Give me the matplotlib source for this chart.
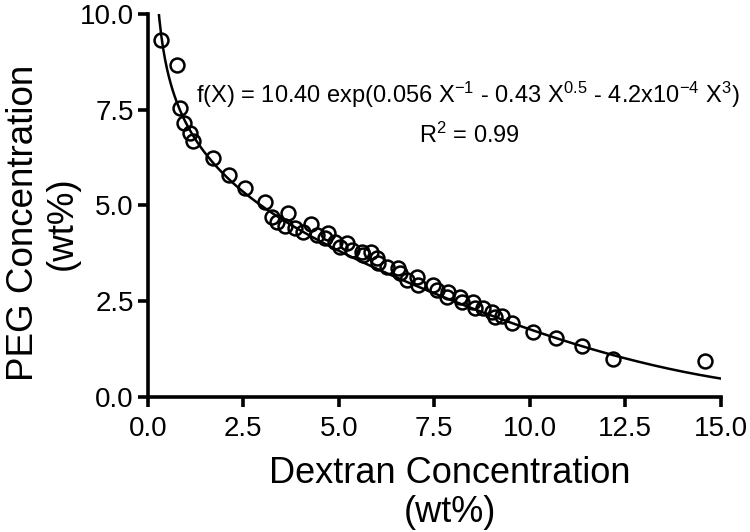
import numpy as np
import matplotlib
matplotlib.use("Agg")
import matplotlib.pyplot as plt

plt.rcParams['font.family'] = ['Liberation Sans', 'DejaVu Sans']
plt.rcParams['mathtext.default'] = 'regular'

dextran = [0.34, 0.76, 0.84, 0.94, 1.10, 1.18, 1.70, 2.12, 2.54, 3.06,
           3.25, 3.38, 3.59, 3.66, 3.85, 4.06, 4.27, 4.42, 4.63, 4.71,
           4.90, 5.03, 5.21, 5.34, 5.60, 5.63, 5.84, 5.99, 6.02, 6.26,
           6.54, 6.60, 6.78, 7.04, 7.07, 7.46, 7.57, 7.85, 7.83, 8.17,
           8.22, 8.51, 8.56, 8.77, 9.01, 9.08, 9.27, 9.53, 10.08, 10.68,
           11.36, 12.17, 14.58]
peg = [9.32, 8.67, 7.55, 7.15, 6.89, 6.68, 6.24, 5.80, 5.46, 5.09,
       4.70, 4.57, 4.46, 4.80, 4.41, 4.31, 4.52, 4.23, 4.15, 4.28,
       4.05, 3.92, 4.02, 3.84, 3.79, 3.71, 3.79, 3.63, 3.50, 3.39,
       3.37, 3.24, 3.05, 3.13, 2.92, 2.92, 2.79, 2.74, 2.61, 2.61,
       2.48, 2.48, 2.32, 2.32, 2.22, 2.09, 2.11, 1.93, 1.70, 1.54,
       1.33, 0.99, 0.94]

# fit coefficients stated on the chart
A, b1, b2, b3 = 10.40, 0.056, 0.43, 4.2e-4
xticks = [0.0, 2.5, 5.0, 7.5, 10.0, 12.5, 15.0]
yticks = [0.0, 2.5, 5.0, 7.5, 10.0]

fig = plt.figure(figsize=(7.5, 5.32), dpi=100)
ax = fig.add_axes([0.197, 0.254, 0.764, 0.72])

xf = np.linspace(0.28, 15, 600)
yf = A * np.exp(b1 / xf - b2 * xf ** 0.5 - b3 * xf ** 3)
ax.plot(xf, yf, color='black', lw=1.8, zorder=2)
ax.plot(dextran, peg, linestyle='none', marker='o', ms=10, mfc='none',
        mec='black', mew=1.8, zorder=3, clip_on=False)

ax.set_xlim(0, 15)
ax.set_ylim(0, 10)
ax.set_xticks(xticks)
ax.set_yticks(yticks)
ax.set_xticklabels([f"{v:.1f}" for v in xticks])
ax.set_yticklabels([f"{v:.1f}" for v in yticks])
for s in ['top', 'right']:
    ax.spines[s].set_visible(False)
for s in ['left', 'bottom']:
    ax.spines[s].set_linewidth(2.6)
ax.tick_params(axis='both', which='major', length=7, width=2.6,
               labelsize=20, direction='out')
ax.tick_params(axis='x', pad=7)
ax.tick_params(axis='y', pad=3)

ax.set_xlabel("Dextran Concentration\n(wt%)", fontsize=26, linespacing=1.15)
ax.set_ylabel("PEG Concentration\n(wt%)", fontsize=26.5, linespacing=1.15)
ax.xaxis.set_label_coords(0.527, -0.155, transform=ax.transAxes)
ax.xaxis.label.set_va('top')
ax.yaxis.set_label_coords(-0.183, 0.454, transform=ax.transAxes)
ax.yaxis.label.set_va('center')

ax.text(0.084, 0.789,
        r"f(X) = 10.40 exp(0.056 X$^{-1}$ - 0.43 X$^{0.5}$ - 4.2x10$^{-4}$ X$^{3}$)",
        transform=ax.transAxes, fontsize=17, ha='left', va='center')
ax.text(0.562, 0.684, r"R$^{2}$ = 0.99", transform=ax.transAxes,
        fontsize=17, ha='center', va='center')

fig.savefig("out.png", dpi=100)
